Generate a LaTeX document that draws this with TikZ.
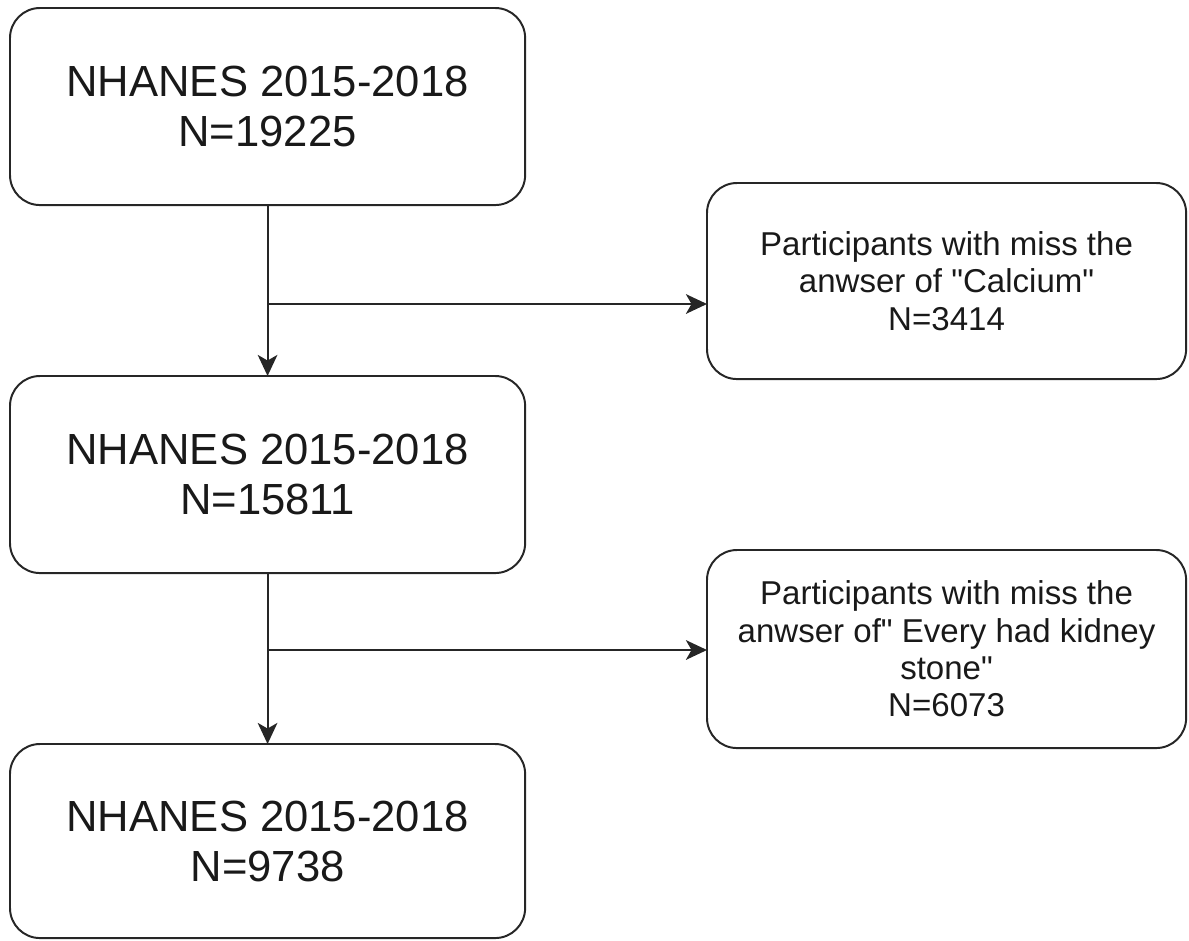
\documentclass[tikz,border=0pt]{standalone}
\usepackage{fontspec}
\setmainfont{Liberation Sans}
\usetikzlibrary{arrows.meta}
\begin{document}
\begin{tikzpicture}[x=0.025cm,y=-0.025cm,
  box/.style={draw=black!85, line width=1.4pt, rounded corners=0.75cm, inner sep=0pt, outer sep=0pt, anchor=north west, align=center, text=black!90},
  bigbox/.style={box, minimum width=12.875cm, minimum height=4.925cm, font=\fontsize{31}{35.6}\selectfont},
  sidebox/.style={box, minimum width=11.975cm, minimum height=4.9cm, font=\fontsize{23.5}{26.5}\selectfont},
  conn/.style={draw=black!85, line width=1.4pt, -{Stealth[length=15pt,width=14pt,inset=4pt]}}]
\useasboundingbox (0,0) rectangle (1189,940);
\node[bigbox] (a) at (10,8) {NHANES 2015-2018\\N=19225};
\node[bigbox] (b) at (10,376) {NHANES 2015-2018\\N=15811};
\node[bigbox, minimum height=4.85cm] (c) at (10,744) {NHANES 2015-2018\\N=9738};
\node[sidebox] (r1) at (707,183) {Participants with miss the\\anwser of \textquotedbl Calcium\textquotedbl\\N=3414};
\node[sidebox, minimum height=4.95cm] (r2) at (707,550) {Participants with miss the\\anwser of\textquotedbl{} Every had kidney\\stone\textquotedbl\\N=6073};
\coordinate (j1) at (267.5,304);
\coordinate (j2) at (267.5,650);
\draw[conn] (a.south) -- (b.north);
\draw[conn] (b.south) -- (c.north);
\draw[conn] (j1) -- (j1 -| r1.west);
\draw[conn] (j2) -- (j2 -| r2.west);
\end{tikzpicture}
\end{document}
